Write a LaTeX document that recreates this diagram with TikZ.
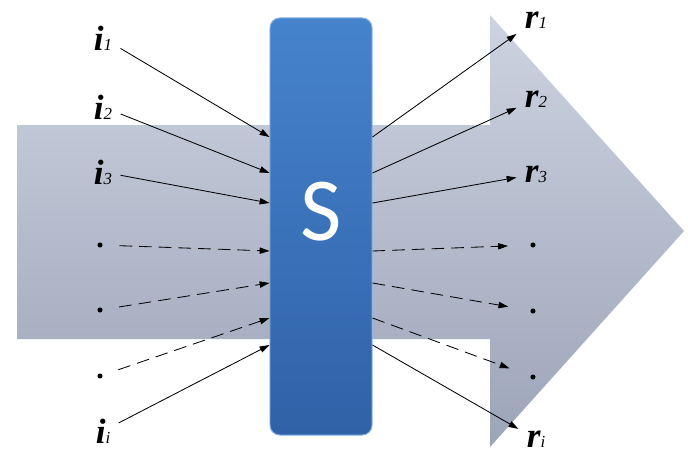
\documentclass[tikz,border=0pt]{standalone}
\usepackage{fontspec}
\setmainfont{Liberation Serif}
\newfontfamily\cfont{Carlito}
\usetikzlibrary{arrows.meta}
\definecolor{shlight}{HTML}{CDD3E0}
\definecolor{shdark}{HTML}{9CA4B8}
\definecolor{sbluetop}{HTML}{4683CD}
\definecolor{sbluedk}{HTML}{2F62A7}
\definecolor{sbluelt}{HTML}{86B2E6}

\newcommand{\flab}[2]{{\fontsize{25}{25}\selectfont\bfseries\itshape #1}%
  {\fontsize{12}{12}\selectfont\itshape #2}}

\begin{document}
\begin{tikzpicture}[
  x=0.025cm, y=-0.025cm,
  every node/.style={inner sep=1pt},
  lab/.style={outer sep=5pt},
  pt/.style={circle, fill=black, minimum size=3.6pt, inner sep=0pt, outer sep=12pt},
  conn/.style={draw=black, line width=0.6pt, -{Triangle[length=7pt,width=4.5pt]}},
  dsh/.style={dash pattern=on 9pt off 5pt},
  sbox/.style={rounded corners=7pt, minimum width=2.55cm, minimum height=10.425cm,
    top color=sbluetop, bottom color=sbluedk,
    draw=sbluelt, line width=0.7pt},
]
\useasboundingbox (0,0) rectangle (688,454);

% ---------- big arrow behind ----------
\shade[top color=shlight, bottom color=shdark]
  (17,123) -- (490,123) -- (490,15) -- (684,231) -- (490,447)
  -- (490,339) -- (17,339) -- cycle;
\draw[white, line width=1pt] (17,124) -- (490,124);

% ---------- system box ----------
\node[sbox] (S) at (321,226.5) {};
\node[text=white, font=\cfont\fontsize{64}{64}\selectfont] (stag) at (321,212) {S};

% ---------- inputs ----------
\foreach \n/\y in {1/38, 2/107, 3/172}
  \node[lab] (i\n) at (103,\y) {\flab{i}{\n}};
\node[lab] (ii) at (103,431) {\flab{i}{i}};
\foreach \n/\y in {1/245, 2/310, 3/376}
  \node[pt] (dl\n) at (100,\y) {};

% ---------- outputs ----------
\foreach \n/\y in {1/20, 2/99, 3/174}
  \node[lab] (r\n) at (536,\y) {\flab{r}{\n}};
\node[lab] (ri) at (536,439) {\flab{r}{i}};
\foreach \n/\y in {1/245, 2/311, 3/377}
  \node[pt, outer sep=16pt] (dr\n) at (533,\y) {};

% ---------- connectors ----------
\foreach \n/\y/\s in {i1/137/solid, i2/173/solid, i3/203/solid,
                      dl1/251/dsh, dl2/283/dsh, dl3/318/dsh, ii/345/solid}
  \draw[conn, \s] (\n) -- (S.west |- 0,\y);
\foreach \n/\y/\s in {r1/137/solid, r2/173/solid, r3/203/solid,
                      dr1/251/dsh, dr2/283/dsh, dr3/318/dsh, ri/345/solid}
  \draw[conn, \s] (S.east |- 0,\y) -- (\n);

\end{tikzpicture}
\end{document}
